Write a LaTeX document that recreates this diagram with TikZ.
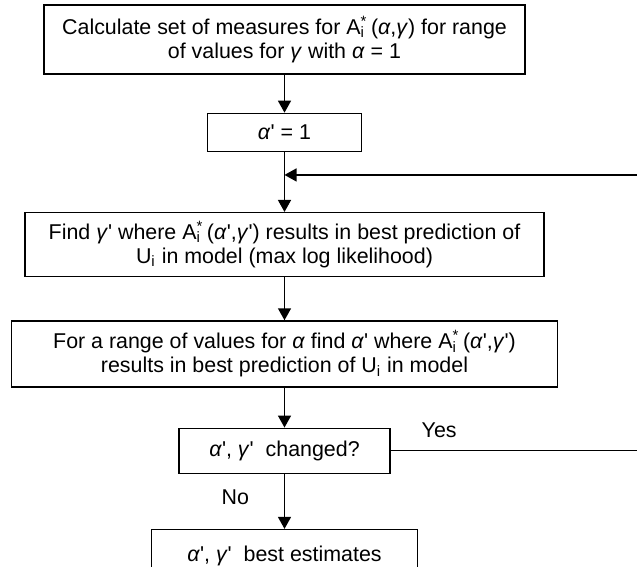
\documentclass[tikz,border=0pt]{standalone}
\usepackage{fontspec}
\setmainfont{Liberation Sans}
\usetikzlibrary{arrows.meta,positioning}
\newcommand{\alp}{\textit{α}}
\newcommand{\gam}{\textit{γ}}
\newcommand{\prm}{\textquotesingle}
\newcommand{\Ast}{A\rlap{\textsubscript{i}}\textsuperscript{*}\,}
\tikzset{
flow/.style={>={Triangle[length=6pt,width=6.5pt]},line width=0.75pt,
    x=0.5pt,y=-0.5pt,font=\fontsize{10.7pt}{12pt}\selectfont},
box/.style={draw,align=center,line width=0.65pt,inner sep=0pt},
}

\begin{document}
\begin{tikzpicture}[flow]
    \useasboundingbox (0,0) rectangle (637,567);

    \node[box,minimum width=240.5pt,minimum height=34.5pt] (1) at (284.5,39.5)
        {Calculate set of measures for \Ast(\alp,\gam) for range\\of values for \gam{} with \alp{} = 1};
    \node[box,minimum width=77pt,minimum height=19pt,below=19pt of 1] (2) {\alp\prm{} = 1};
    \node[box,minimum width=259.5pt,minimum height=32pt,below=30pt of 2] (3)
        {Find \gam\prm{} where \Ast(\alp\prm,\gam\prm) results in best prediction of\\U\textsubscript{i} in model (max log likelihood)};
    \node[box,minimum width=273pt,minimum height=33pt,below=21.5pt of 3] (4)
        {For a range of values for \alp{} find \alp\prm{} where \Ast(\alp\prm,\gam\prm)\\results in best prediction of U\textsubscript{i} in model};
    \node[box,minimum width=105.5pt,minimum height=22.5pt,below=20pt of 4] (5) {\alp\prm, \gam\prm\ \ changed?};
    \node[box,minimum width=133pt,minimum height=26pt,below=27.5pt of 5] (6) {\alp\prm, \gam\prm\ \ best estimates};
    \coordinate[below=11.5pt of 2.south] (j);
    \coordinate (r) at (660,0);

    \path[->]
        (1) edge (2)
        (2) edge (3)
        (3) edge (4)
        (4) edge (5)
        (5) edge node[left=14pt,yshift=2pt] {No} (6)
    ;
    \draw[->,line width=0.6pt] (5.east) -- node[pos=0.18,above=3pt] {Yes} (5.east -| r) |- (j);
\end{tikzpicture}
\end{document}
